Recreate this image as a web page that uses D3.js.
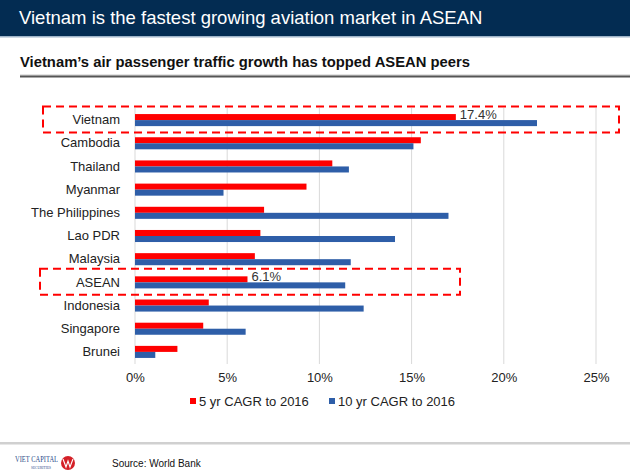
<!DOCTYPE html>
<html><head><meta charset="utf-8">
<script src="https://cdn.jsdelivr.net/npm/d3@7/dist/d3.min.js"></script>
<style>body{margin:0;background:#fff;}svg{display:block;font-family:"Liberation Sans",Arial,sans-serif;}</style>
</head><body>
<svg id="c" width="630" height="475"></svg>
<script>
const categories = ["Vietnam","Cambodia","Thailand","Myanmar","The Philippines","Lao PDR","Malaysia","ASEAN","Indonesia","Singapore","Brunei"];
const cagr5 = [17.4,15.5,10.7,9.3,7.0,6.8,6.5,6.1,4.0,3.7,2.3];
const cagr10 = [21.8,15.1,11.6,4.8,17.0,14.1,11.7,11.4,12.4,6.0,1.1];
const seriesNames = ["5 yr CAGR to 2016","10 yr CAGR to 2016"];
const tickValues = [0,5,10,15,20,25];
const highlighted = ["Vietnam","ASEAN"];

const svg = d3.select("#c");
const RED = "#ff0000", BLUE = "#2e5ea8";

// header
svg.append("rect").attr("x",0).attr("y",0).attr("width",630).attr("height",36).attr("fill","#032c52");
svg.append("rect").attr("x",0).attr("y",36).attr("width",630).attr("height",1.5).attr("fill","#9fb4c8");
svg.append("text").attr("x",19).attr("y",24).attr("fill","#fff").attr("font-size",18.5)
  .text("Vietnam is the fastest growing aviation market in ASEAN");
svg.append("text").attr("x",20).attr("y",67).attr("fill","#111").attr("font-size",14.8).attr("font-weight","bold")
  .text("Vietnam\u2019s air passenger traffic growth has topped ASEAN peers");
svg.append("rect").attr("x",20).attr("y",74.5).attr("width",610).attr("height",1).attr("fill","#c8c8c8");
svg.append("rect").attr("x",20).attr("y",75.5).attr("width",610).attr("height",2).attr("fill","#555");

const x = d3.scaleLinear().domain([0,25]).range([135,596]);
const y = d3.scaleBand().domain(categories).range([108.5,363.5]).paddingInner(0.48).paddingOuter(0.24);
const ys = d3.scaleBand().domain([0,1]).range([0,y.bandwidth()]);

// gridlines
svg.append("g").selectAll("line").data(tickValues).join("line")
  .attr("x1",d=>x(d)).attr("x2",d=>x(d)).attr("y1",108).attr("y2",364)
  .attr("stroke","#d9d9d9").attr("stroke-width",1);

// bars
const rows = categories.map((c,i)=>({c, v:[cagr5[i],cagr10[i]]}));
const g = svg.append("g");
rows.forEach(r=>{
  r.v.forEach((v,k)=>{
    g.append("rect").attr("x",x(0)).attr("y",y(r.c)+ys(k)).attr("width",x(v)-x(0)).attr("height",ys.bandwidth())
      .attr("fill",k===0?RED:BLUE);
  });
});

// category axis labels
const ax = svg.append("g").attr("transform",`translate(${x(0)},0)`)
  .call(d3.axisLeft(y).tickSize(0).tickPadding(15));
ax.select(".domain").remove();
ax.selectAll("text").attr("font-size",13).attr("fill","#222").attr("font-family","Liberation Sans, Arial, sans-serif");

// x axis
const bx = svg.append("g").attr("transform","translate(0,364)")
  .call(d3.axisBottom(x).tickValues(tickValues).tickSize(0).tickPadding(9).tickFormat(d=>d+"%"));
bx.select(".domain").remove();
bx.selectAll("text").attr("font-size",13).attr("fill","#222").attr("font-family","Liberation Sans, Arial, sans-serif");

// value labels for highlighted
highlighted.forEach(c=>{
  const i = categories.indexOf(c);
  svg.append("text").attr("x",x(cagr5[i])+4).attr("y",y(c)+ys(0)+ys.bandwidth()/2+2)
    .attr("font-size",13).attr("fill","#333").text(cagr5[i].toFixed(1)+"%");
});

// dashed boxes
const boxes = [{c:"Vietnam",x1:43,x2:619},{c:"ASEAN",x1:40,x2:460}];
boxes.forEach(b=>{
  const cy = y(b.c)+y.bandwidth()/2;
  svg.append("rect").attr("x",b.x1).attr("y",cy-13.5).attr("width",b.x2-b.x1).attr("height",26)
    .attr("fill","none").attr("stroke",RED).attr("stroke-width",2).attr("stroke-dasharray","8,5");
});

// legend
const leg = [{n:seriesNames[0],c:RED,x:190},{n:seriesNames[1],c:BLUE,x:329}];
leg.forEach(l=>{
  svg.append("rect").attr("x",l.x).attr("y",398).attr("width",6).attr("height",6).attr("fill",l.c);
  svg.append("text").attr("x",l.x+9).attr("y",406).attr("font-size",13).attr("fill","#222").text(l.n);
});

// footer
svg.append("rect").attr("x",0).attr("y",442).attr("width",630).attr("height",2.5).attr("fill","#d0d0d0");
svg.append("text").attr("x",15).attr("y",462).attr("font-size",7.5).attr("fill","#2b4a8a")
  .attr("font-family","Liberation Serif, serif").attr("textLength",43).attr("lengthAdjust","spacingAndGlyphs").text("VIET CAPITAL");
svg.append("text").attr("x",31).attr("y",468.5).attr("font-size",4).attr("fill","#2b4a8a")
  .attr("font-family","Liberation Serif, serif").attr("textLength",20).attr("lengthAdjust","spacingAndGlyphs").text("SECURITIES");
svg.append("circle").attr("cx",68).attr("cy",463).attr("r",7).attr("fill","#d42027");
svg.append("path").attr("d","M63,459 L66,467 L68,461 L70,467 L73,459").attr("fill","none").attr("stroke","#fff").attr("stroke-width",1.1);
svg.append("text").attr("x",112).attr("y",467).attr("font-size",10).attr("fill","#111").text("Source: World Bank");
</script>
</body></html>
